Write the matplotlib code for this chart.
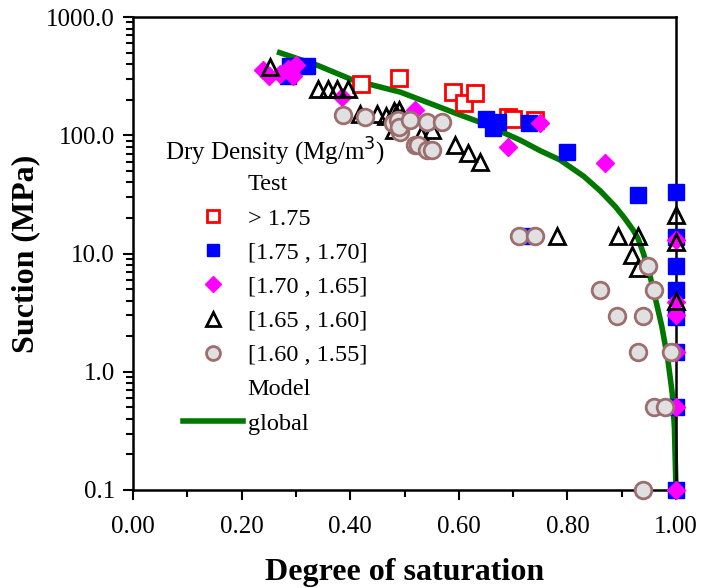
import matplotlib.pyplot as plt
from matplotlib.lines import Line2D
from matplotlib.ticker import FixedLocator, FuncFormatter, LogLocator, NullFormatter

plt.rcParams["font.family"] = ["Liberation Serif", "DejaVu Serif"]

# degree of saturation / suction (MPa)
red_s = [0.42, 0.49, 0.59, 0.61, 0.63, 0.69, 0.70, 0.74]
red_psi = [270, 305, 232, 187, 228, 143, 137, 135]

blue_s = [0.285, 0.29, 0.32, 0.65, 0.663, 0.672, 0.729, 0.725, 0.80, 0.93,
          1.0, 1.0, 1.0, 1.0, 1.0, 1.0, 1.0, 1.0]
blue_psi = [320, 385, 385, 137, 115, 129, 127, 14, 72, 31,
            33, 13.8, 7.8, 4.9, 2.9, 1.47, 0.5, 0.1]

magenta_s = [0.24, 0.25, 0.27, 0.285, 0.295, 0.30, 0.385, 0.52, 0.69, 0.75, 0.87,
             1.0, 1.0, 1.0, 1.0, 1.0, 1.0]
magenta_psi = [360, 315, 330, 365, 320, 390, 210, 163, 80, 127, 58,
               13, 3.9, 3.0, 1.47, 0.5, 0.1]

tri_s = [0.252, 0.34, 0.359, 0.376, 0.396, 0.418, 0.449, 0.466, 0.48, 0.485, 0.49, 0.495,
         0.48, 0.53, 0.55, 0.593, 0.617, 0.639, 0.78, 0.893, 0.93, 0.918, 0.93,
         1.0, 1.0, 1.0]
tri_psi = [375, 246, 246, 246, 246, 152, 152, 145, 160, 150, 165, 145,
           110, 100, 110, 83, 71, 59, 14, 14, 14, 9.7, 7.5,
           21, 12.4, 4.0]

circ_s = [0.387, 0.427, 0.479, 0.488, 0.492, 0.49, 0.51, 0.541, 0.569, 0.519, 0.525, 0.541,
          0.551, 0.71, 0.74, 0.948, 0.86, 0.96, 0.891, 0.94, 0.93, 0.99, 0.96, 0.98, 0.94]
circ_psi = [148, 143, 127, 135, 107, 118, 135, 129, 129, 83, 83, 75,
            75, 14, 14, 7.8, 4.9, 4.9, 2.95, 2.95, 1.47, 1.47, 0.5, 0.5, 0.1]

model_s = [0.27, 0.34, 0.405, 0.492, 0.565, 0.60, 0.639, 0.713, 0.75, 0.786, 0.83,
           0.86, 0.888, 0.905, 0.921, 0.93, 0.94, 0.95, 0.958, 0.974, 0.985, 0.993,
           0.997, 1.0]
model_psi = [500, 390, 293, 232, 173, 150, 129, 91, 74, 62, 45,
             34, 25, 20, 15.8, 13.4, 10, 7.1, 5.0, 2.4, 1.26, 0.66,
             0.34, 0.1]

y_ticks = [0.1, 1, 10, 100, 1000]

fig = plt.figure(figsize=(7.02, 5.88), dpi=100)
ax = fig.add_axes([0.1895, 0.1667, 0.7735, 0.8043])

ax.plot(model_s, model_psi, color="#007800", lw=4, zorder=2, clip_on=False)
marker_kw = dict(ls="none", clip_on=False)
ax.plot(red_s, red_psi, marker="s", ms=11, mfc="white", mec="#ff0000", mew=2, zorder=3, **marker_kw)
ax.plot(blue_s, blue_psi, marker="s", ms=11, mfc="#0000ff", mec="#0000ff", zorder=3, **marker_kw)
ax.plot(magenta_s, magenta_psi, marker="D", ms=9, mfc="#ff00ff", mec="#ff00ff", zorder=4, **marker_kw)
ax.plot(tri_s, tri_psi, marker="^", ms=12, mfc="none", mec="black", mew=2, zorder=5, **marker_kw)
ax.plot(circ_s, circ_psi, marker="o", ms=12, mfc="#e0e0e0", mec="#9c6e6e", mew=2, zorder=6, **marker_kw)

ax.set_yscale("log")
ax.set_xlim(0, 1.0)
ax.set_ylim(0.1, 1000)
ax.xaxis.set_major_locator(FixedLocator([0, 0.2, 0.4, 0.6, 0.8, 1.0]))
ax.xaxis.set_minor_locator(FixedLocator([0.1, 0.3, 0.5, 0.7, 0.9]))
ax.xaxis.set_major_formatter(FuncFormatter(lambda v, p: f"{v:.2f}"))
ax.yaxis.set_major_locator(FixedLocator(y_ticks))
ax.yaxis.set_major_formatter(FuncFormatter(lambda v, p: f"{v:.1f}"))
ax.yaxis.set_minor_locator(LogLocator(base=10, subs=range(2, 10)))
ax.yaxis.set_minor_formatter(NullFormatter())
ax.tick_params(which="both", direction="out", width=1.5, labelsize=18, right=False, top=False)
ax.tick_params(which="major", length=7)
ax.tick_params(which="minor", length=5)
ax.tick_params(axis="x", pad=12)
ax.tick_params(axis="y", pad=6)
for sp in ax.spines.values():
    sp.set_linewidth(1.8)

ax.set_xlabel("Degree of saturation", fontsize=23, fontweight="bold", labelpad=14)
ax.set_ylabel("Suction (MPa)", fontsize=23, fontweight="bold", labelpad=4)

blank = Line2D([], [], ls="none")
handles = [
    blank,
    Line2D([], [], ls="none", marker="s", ms=9, mfc="white", mec="#ff0000", mew=2),
    Line2D([], [], ls="none", marker="s", ms=9, mfc="#0000ff", mec="#0000ff"),
    Line2D([], [], ls="none", marker="D", ms=8, mfc="#ff00ff", mec="#ff00ff"),
    Line2D([], [], ls="none", marker="^", ms=10, mfc="none", mec="black", mew=2),
    Line2D([], [], ls="none", marker="o", ms=10, mfc="#e0e0e0", mec="#9c6e6e", mew=2),
    blank,
    Line2D([], [], color="#007800", lw=4),
]
labels = ["Test", "> 1.75", "[1.75 , 1.70]", "[1.70 , 1.65]", "[1.65 , 1.60]",
          "[1.60 , 1.55]", "Model", "global"]
leg = ax.legend(handles, labels, title="Dry Density (Mg/m$^3$)", loc="upper left",
                bbox_to_anchor=(0.028, 0.785), frameon=False, fontsize=17.5,
                title_fontsize=18, handlelength=2.45, handletextpad=0.2,
                labelspacing=0.5, borderpad=0.2)
leg._legend_box.sep = 4
leg.set_zorder(10)

fig.savefig("out.png", dpi=100)
